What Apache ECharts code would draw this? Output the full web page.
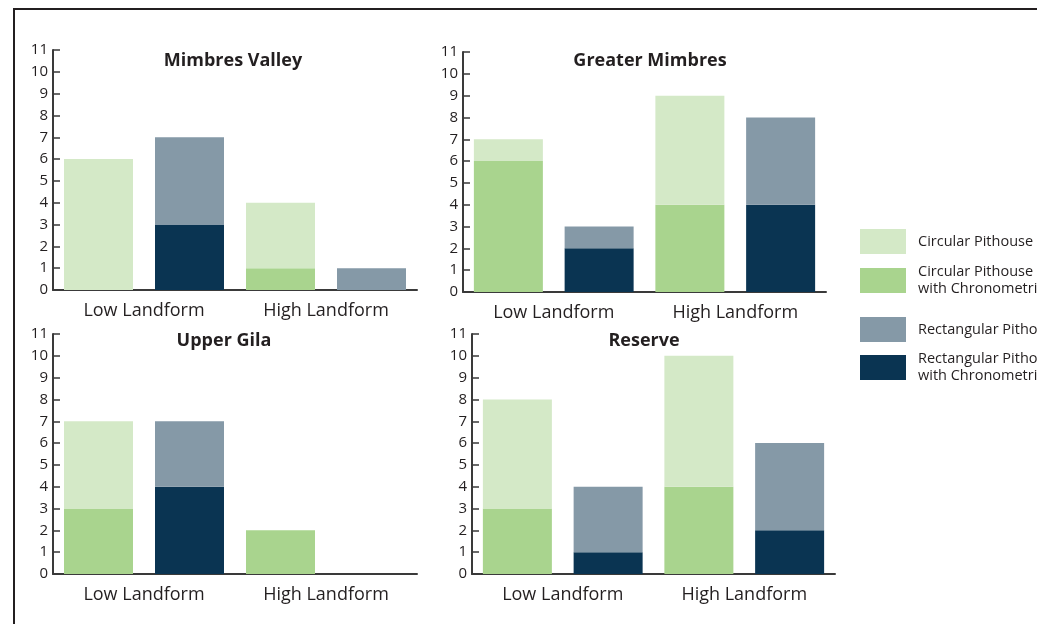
<!DOCTYPE html>
<html>
<head>
<meta charset="utf-8">
<script src="https://cdn.jsdelivr.net/npm/echarts@6/dist/echarts.min.js"></script>
<style>
  html, body { margin: 0; padding: 0; background: #fff; }
  #chart { width: 1037px; height: 624px; }
</style>
</head>
<body>
<div id="chart"></div>
<script>
// Pithouse counts per region, split by landform [Low, High]
const regions = ['Mimbres Valley', 'Greater Mimbres', 'Upper Gila', 'Reserve'];
const landforms = ['Low Landform', 'High Landform'];
const circularTotal    = [[6, 4], [7, 9], [7, 2], [8, 10]];
const circularDated    = [[0, 1], [6, 4], [3, 2], [3, 4]];
const rectangularTotal = [[7, 1], [3, 8], [7, 0], [4, 6]];
const rectangularDated = [[3, 0], [2, 4], [4, 0], [1, 2]];
const yMax = 11;

const seriesNames = [
  'Circular Pithouse',
  'Circular Pithouse with Chronometric Dates',
  'Rectangular Pithouse',
  'Rectangular Pithouse with Chronometric Dates'
];
const legendLabels = {
  'Circular Pithouse': 'Circular Pithouse',
  'Circular Pithouse with Chronometric Dates': 'Circular Pithouse\nwith Chronometric Dates',
  'Rectangular Pithouse': 'Rectangular Pithouse',
  'Rectangular Pithouse with Chronometric Dates': 'Rectangular Pithouse\nwith Chronometric Dates'
};
const colors = {
  'Circular Pithouse': '#d4e9c7',
  'Circular Pithouse with Chronometric Dates': '#a9d48e',
  'Rectangular Pithouse': '#8599a7',
  'Rectangular Pithouse with Chronometric Dates': '#0a3452'
};

const ink = '#231f20';
const axisColor = '#3a3a3a';
const font = '"Open Sans", "Noto Sans", sans-serif';

// panel layout
const panels = [
  { left: 53,  top: 50,  width: 364, titleX: 233, titleY: 61 },
  { left: 463, top: 52,  width: 363, titleX: 650, titleY: 61 },
  { left: 53,  top: 334, width: 364, titleX: 224, titleY: 341 },
  { left: 472, top: 334, width: 363, titleX: 644, titleY: 341 }
];
const panelHeight = 240;

const grid = [], xAxis = [], yAxis = [], series = [], graphic = [];

graphic.push({
  type: 'rect', z: -1, silent: true,
  shape: { x: 14, y: 9, width: 1200, height: 800 },
  style: { fill: 'none', stroke: ink, lineWidth: 2 }
});

regions.forEach((region, i) => {
  const p = panels[i];
  grid.push({ left: p.left, top: p.top, width: p.width, height: panelHeight });

  // slot axis: circular / rectangular columns for each landform
  xAxis.push({
    type: 'category', gridIndex: i, position: 'bottom',
    data: ['low-c', 'low-r', 'high-c', 'high-r'],
    axisLine: { lineStyle: { color: axisColor, width: 2 } },
    axisTick: { inside: true, length: 6, lineStyle: { color: axisColor, width: 1.5 } },
    axisLabel: { show: false }
  });
  // landform labels
  xAxis.push({
    type: 'category', gridIndex: i, position: 'bottom',
    data: landforms,
    axisLine: { show: false }, axisTick: { show: false },
    axisLabel: { color: ink, fontSize: 18, fontFamily: font, margin: 12 }
  });
  yAxis.push({
    type: 'value', gridIndex: i, min: 0, max: yMax, interval: 1,
    splitLine: { show: false },
    axisLine: { show: true, lineStyle: { color: axisColor, width: 2 } },
    axisTick: { show: true, inside: true, length: 7, lineStyle: { color: axisColor, width: 1.5 } },
    axisLabel: { color: ink, fontSize: 15, fontFamily: font, margin: 5 }
  });

  const ct = circularTotal[i], cd = circularDated[i];
  const rt = rectangularTotal[i], rd = rectangularDated[i];
  const columns = {
    'Circular Pithouse with Chronometric Dates': [cd[0], '-', cd[1], '-'],
    'Circular Pithouse': [ct[0] - cd[0], '-', ct[1] - cd[1], '-'],
    'Rectangular Pithouse with Chronometric Dates': ['-', rd[0], '-', rd[1]],
    'Rectangular Pithouse': ['-', rt[0] - rd[0], '-', rt[1] - rd[1]]
  };
  Object.keys(columns).forEach(name => {
    series.push({
      type: 'bar', name,
      xAxisIndex: 2 * i, yAxisIndex: i,
      stack: 'panel' + i,
      barWidth: 69,
      itemStyle: { color: colors[name] },
      data: columns[name]
    });
  });

  graphic.push({
    type: 'text', x: p.titleX, y: p.titleY, silent: true,
    style: {
      text: region, fill: ink, textAlign: 'center', textVerticalAlign: 'middle',
      font: 'bold 18px ' + font
    }
  });
});

const legendTops = [229, 263.5, 317, 350.5];
const legend = seriesNames.map((name, k) => ({
  data: [name],
  orient: 'vertical',
  left: 860, top: legendTops[k],
  padding: 0,
  icon: 'rect', itemWidth: 46, itemHeight: 25,
  selectedMode: false,
  formatter: n => legendLabels[n],
  textStyle: { color: ink, fontSize: 14.5, fontFamily: font, lineHeight: 17, padding: [0, 0, 0, 7] }
}));

const chart = echarts.init(document.getElementById('chart'), null, { renderer: 'canvas' });
chart.setOption({
  animation: false,
  backgroundColor: '#fff',
  grid, xAxis, yAxis, series, legend, graphic
});
</script>
</body>
</html>
